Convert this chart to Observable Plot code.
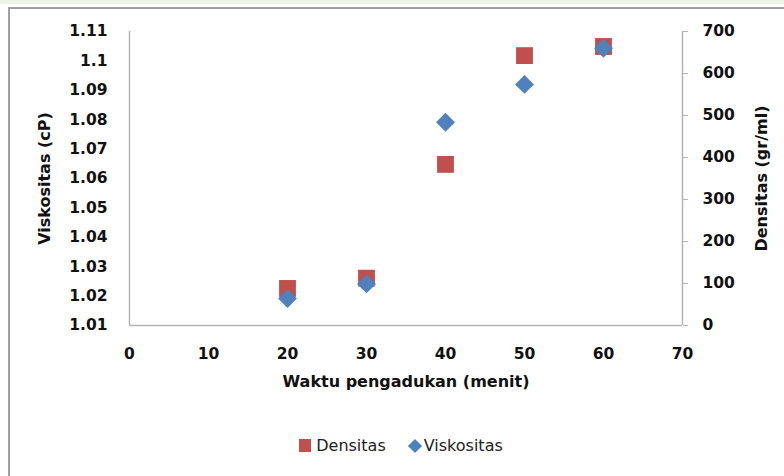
<!DOCTYPE html>
<html>
<head>
<meta charset="utf-8">
<script src="https://cdn.jsdelivr.net/npm/d3@7"></script>
<script src="https://cdn.jsdelivr.net/npm/@observablehq/plot@0.6"></script>
<style>
  html, body { margin: 0; padding: 0; background: #fff; }
  #wrap { position: relative; width: 784px; height: 476px; overflow: hidden; font-family: "DejaVu Sans", sans-serif; }
  #topband { position: absolute; left: 0; top: 0; width: 784px; height: 4px; background: #eef4e2; }
  #frame { position: absolute; left: 8px; top: 7px; width: 800px; height: 500px; border-left: 2px solid #a0a0a0; border-top: 2px solid #a0a0a0; box-sizing: border-box; }
  #chart { position: absolute; left: 0; top: 0; }
  #legend { position: absolute; left: 9px; top: 436px; width: 784px; display: flex; justify-content: center; align-items: center; font-size: 16px; color: #222; gap: 0; }
  .item { display: flex; align-items: center; }
  .sw { display: inline-block; }
</style>
</head>
<body>
<div id="wrap">
  <div id="topband"></div>
  <div id="frame"></div>
  <div id="chart"></div>
  <div id="legend"></div>
</div>
<script>
// Data
const waktu = [20, 30, 40, 50, 60];
const densitas = [1.0226, 1.0261, 1.0648, 1.1018, 1.1049];   // left axis
const viskositas = [64, 99, 484, 574, 660];                  // right axis
const xTicks = [0, 10, 20, 30, 40, 50, 60, 70];
const leftTicks = [1.01, 1.02, 1.03, 1.04, 1.05, 1.06, 1.07, 1.08, 1.09, 1.1, 1.11];
const rightTicks = [0, 100, 200, 300, 400, 500, 600, 700];
const seriesNames = ["Densitas", "Viskositas"];
const colors = ["#C0504D", "#4F81BD"];

const y2 = d3.scaleLinear([0, 700], [1.01, 1.11]);

const dens = waktu.map((x, i) => ({x, v: densitas[i]}));
const visk = waktu.map((x, i) => ({x, v: viskositas[i]}));

const chart = Plot.plot({
  width: 784,
  height: 420,
  marginLeft: 129,
  marginRight: 102,
  marginTop: 31,
  marginBottom: 95,
  style: {fontFamily: "DejaVu Sans, sans-serif", background: "transparent", overflow: "visible"},
  x: {domain: [0, 70]},
  y: {domain: [1.01, 1.11]},
  marks: [
    Plot.ruleY([1.01], {stroke: "#b4b4b4", strokeWidth: 1.5}),
    Plot.ruleX([0], {stroke: "#b4b4b4", strokeWidth: 1.5}),
    Plot.ruleX([70], {stroke: "#b4b4b4", strokeWidth: 1.5}),
    Plot.axisX({ticks: xTicks, tickSize: 0, tickPadding: 22, fontSize: 15.5, fontWeight: "bold", fill: "#111", label: null}),
    Plot.axisY({ticks: leftTicks, tickSize: 0, tickPadding: 22, fontSize: 15.5, fontWeight: "bold", fill: "#111", label: null, tickFormat: d => d3.format("")(+d.toFixed(2))}),
    Plot.axisY({anchor: "right", ticks: rightTicks.map(y2), tickFormat: d => Math.round(y2.invert(d)), tickSize: 5, tickPadding: 15, stroke: "#b4b4b4", fontSize: 15.5, fontWeight: "bold", fill: "#111", label: null}),
    Plot.text(["Waktu pengadukan (menit)"], {frameAnchor: "bottom", dy: 61, fontSize: 16, fontWeight: "bold", fill: "#111"}),
    Plot.text(["Viskositas (cP)"], {frameAnchor: "left", textAnchor: "middle", dx: -85, rotate: -90, fontSize: 16, fontWeight: "bold", fill: "#111"}),
    Plot.text(["Densitas (gr/ml)"], {frameAnchor: "right", textAnchor: "middle", dx: 79, rotate: -90, fontSize: 16, fontWeight: "bold", fill: "#111"}),
    Plot.dot(dens, {x: "x", y: "v", symbol: "square", r: 9.5, fill: colors[0], stroke: "none"}),
    Plot.dot(visk, {x: "x", y: d => y2(d.v), symbol: "diamond2", r: 8.5, fill: colors[1], stroke: "none"})
  ]
});
document.getElementById("chart").appendChild(chart);

// Legend
const legend = document.getElementById("legend");
seriesNames.forEach((name, i) => {
  const item = document.createElement("div");
  item.className = "item";
  item.style.marginRight = i === 0 ? "22px" : "0";
  const sw = document.createElement("span");
  sw.className = "sw";
  if (i === 0) {
    sw.style.cssText = `width:12px;height:13px;background:${colors[0]};margin-right:5px;`;
  } else {
    sw.style.cssText = `width:10px;height:10px;background:${colors[1]};transform:rotate(45deg);margin-right:4px;margin-left:2px;`;
  }
  const t = document.createElement("span");
  t.textContent = name;
  item.appendChild(sw);
  item.appendChild(t);
  legend.appendChild(item);
});
</script>
</body>
</html>
